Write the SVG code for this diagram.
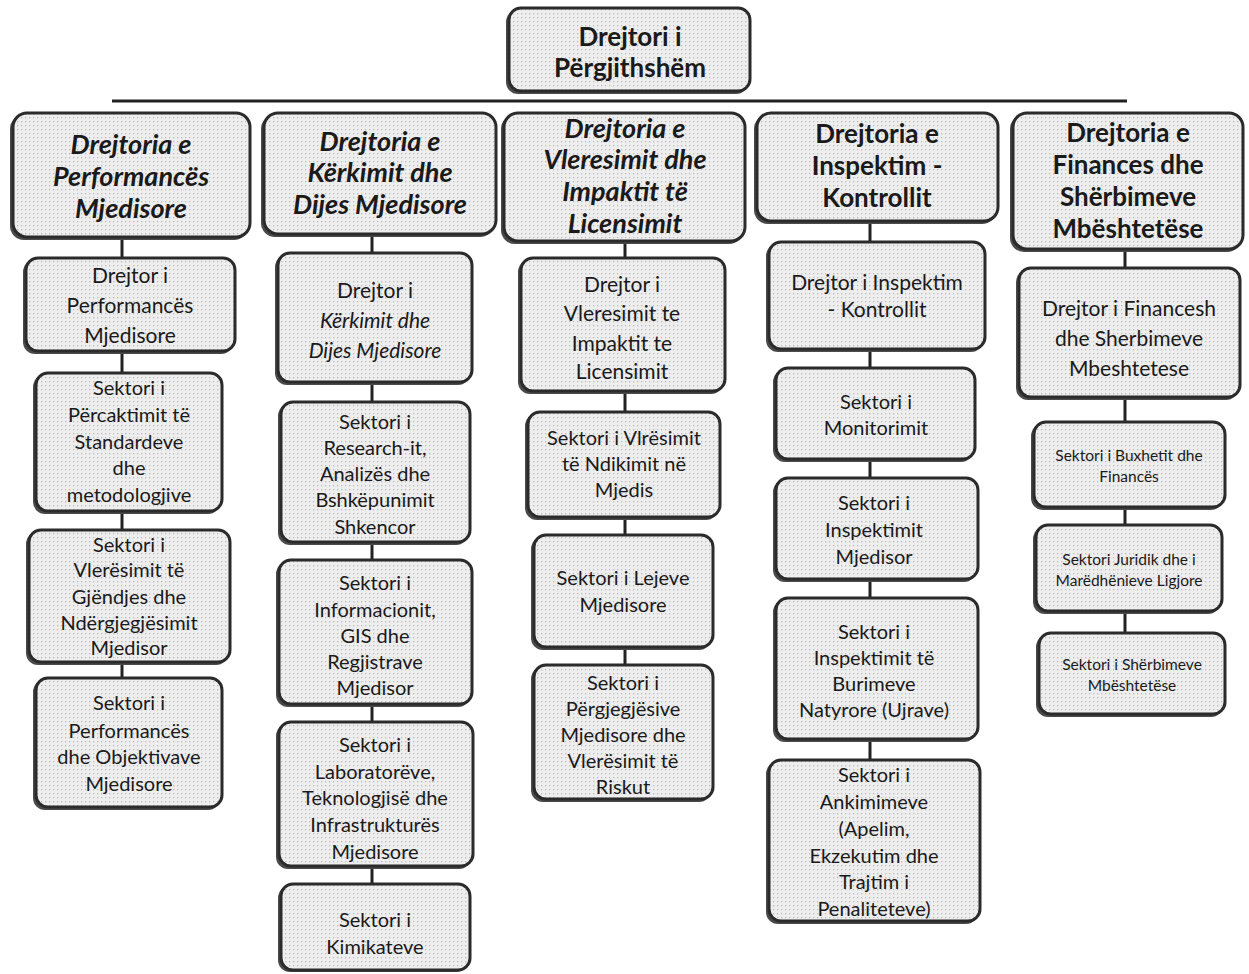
<svg xmlns="http://www.w3.org/2000/svg" width="1249" height="974" viewBox="0 0 1249 974">
<defs>
<pattern id="dots" width="4" height="4" patternUnits="userSpaceOnUse">
<rect width="4" height="4" fill="#eeeeee"/>
<rect x="1" y="1" width="1.3" height="1.3" fill="#bdbdbd"/>
</pattern>
<style>
.box{fill:url(#dots);stroke:#2b2b2b;stroke-width:3}
.sh{fill:#4a4a4a}
text{font-family:Lato,"Liberation Sans",sans-serif;fill:#1a1a1a;text-anchor:middle}
.t1{font-size:26px;font-weight:bold}
.t2{font-size:27px;font-weight:bold;font-style:italic}
.t2b{font-size:26px;font-weight:bold}
.t3{font-size:21px}
.t4{font-size:20px}
.t4s{font-size:21px}
.t5{font-size:15.5px}
.it{font-style:italic}
.con line{stroke:#222;stroke-width:3}
.bar{stroke:#1a1a1a;stroke-width:4}
</style>
</defs>
<rect width="1249" height="974" fill="#ffffff"/>

<g class="con" id="connectors">
<line class="bar" x1="112" y1="101" x2="1127" y2="101"/>
<line x1="122" y1="238" x2="122" y2="258"/>
<line x1="122" y1="352" x2="122" y2="373"/>
<line x1="122" y1="512" x2="122" y2="530"/>
<line x1="122" y1="663" x2="122" y2="678"/>
<line x1="372" y1="235" x2="372" y2="253"/>
<line x1="372" y1="383" x2="372" y2="402"/>
<line x1="372" y1="543" x2="372" y2="560"/>
<line x1="372" y1="705" x2="372" y2="722"/>
<line x1="372" y1="867" x2="372" y2="884"/>
<line x1="625" y1="242" x2="625" y2="258"/>
<line x1="625" y1="392" x2="625" y2="412"/>
<line x1="625" y1="518" x2="625" y2="535"/>
<line x1="625" y1="648" x2="625" y2="665"/>
<line x1="870" y1="222" x2="870" y2="242"/>
<line x1="870" y1="350" x2="870" y2="368"/>
<line x1="870" y1="460" x2="870" y2="478"/>
<line x1="870" y1="580" x2="870" y2="598"/>
<line x1="870" y1="740" x2="870" y2="760"/>
<line x1="1125" y1="250" x2="1125" y2="268"/>
<line x1="1125" y1="398" x2="1125" y2="422"/>
<line x1="1125" y1="508" x2="1125" y2="525"/>
<line x1="1125" y1="612" x2="1125" y2="633"/>
</g>

<g id="top">
<rect class="sh" x="506" y="10" width="242" height="84" rx="12"/>
<rect class="box" x="509" y="8" width="241" height="83" rx="12"/>
<text class="t1" x="630" y="46">Drejtori i</text>
<text class="t1" x="630" y="77">Përgjithshëm</text>
</g>

<!-- Column 1 -->
<g id="d1">
<rect class="sh" x="10" y="115" width="238" height="125" rx="14"/>
<rect class="box" x="13" y="113" width="237" height="124" rx="14"/>
<text class="t2" x="131" y="154">Drejtoria e</text>
<text class="t2" x="131" y="186">Performancës</text>
<text class="t2" x="131" y="218">Mjedisore</text>
</g>
<g id="c1n1">
<rect class="sh" x="23" y="260" width="210" height="94" rx="12"/>
<rect class="box" x="26" y="258" width="209" height="93" rx="12"/>
<text class="t3" x="130" y="283">Drejtor i</text>
<text class="t3" x="130" y="313">Performancës</text>
<text class="t3" x="130" y="343">Mjedisore</text>
</g>
<g id="c1n2">
<rect class="sh" x="33" y="375" width="187" height="139" rx="12"/>
<rect class="box" x="36" y="373" width="186" height="138" rx="12"/>
<text class="t4" x="129" y="395">Sektori i</text>
<text class="t4" x="129" y="422">Përcaktimit të</text>
<text class="t4" x="129" y="449">Standardeve</text>
<text class="t4" x="129" y="475">dhe</text>
<text class="t4" x="129" y="502">metodologjive</text>
</g>
<g id="c1n3">
<rect class="sh" x="26" y="532" width="202" height="133" rx="12"/>
<rect class="box" x="29" y="530" width="201" height="132" rx="12"/>
<text class="t4" x="129" y="552">Sektori i</text>
<text class="t4" x="129" y="577">Vlerësimit të</text>
<text class="t4" x="129" y="604">Gjëndjes dhe</text>
<text class="t4" x="129" y="630">Ndërgjegjësimit</text>
<text class="t4" x="129" y="655">Mjedisor</text>
</g>
<g id="c1n4">
<rect class="sh" x="33" y="680" width="187" height="130" rx="12"/>
<rect class="box" x="36" y="678" width="186" height="129" rx="12"/>
<text class="t4" x="129" y="710">Sektori i</text>
<text class="t4" x="129" y="738">Performancës</text>
<text class="t4" x="129" y="764">dhe Objektivave</text>
<text class="t4" x="129" y="791">Mjedisore</text>
</g>

<!-- Column 2 -->
<g id="d2">
<rect class="sh" x="261" y="115" width="233" height="122" rx="14"/>
<rect class="box" x="264" y="113" width="232" height="121" rx="14"/>
<text class="t2" x="380" y="151">Drejtoria e</text>
<text class="t2" x="380" y="182">Kërkimit dhe</text>
<text class="t2" x="380" y="214">Dijes Mjedisore</text>
</g>
<g id="c2n1">
<rect class="sh" x="275" y="255" width="195" height="130" rx="12"/>
<rect class="box" x="278" y="253" width="194" height="129" rx="12"/>
<text class="t3" x="375" y="298">Drejtor i</text>
<text class="t3 it" x="375" y="328">Kërkimit dhe</text>
<text class="t3 it" x="375" y="358">Dijes Mjedisore</text>
</g>
<g id="c2n2">
<rect class="sh" x="278" y="404" width="190" height="141" rx="12"/>
<rect class="box" x="281" y="402" width="189" height="140" rx="12"/>
<text class="t4" x="375" y="429">Sektori i</text>
<text class="t4" x="375" y="455">Research-it,</text>
<text class="t4" x="375" y="481">Analizës dhe</text>
<text class="t4" x="375" y="507">Bshkëpunimit</text>
<text class="t4" x="375" y="534">Shkencor</text>
</g>
<g id="c2n3">
<rect class="sh" x="276" y="562" width="194" height="145" rx="12"/>
<rect class="box" x="279" y="560" width="193" height="144" rx="12"/>
<text class="t4" x="375" y="590">Sektori i</text>
<text class="t4" x="375" y="617">Informacionit,</text>
<text class="t4" x="375" y="643">GIS dhe</text>
<text class="t4" x="375" y="669">Regjistrave</text>
<text class="t4" x="375" y="695">Mjedisor</text>
</g>
<g id="c2n4">
<rect class="sh" x="276" y="724" width="195" height="145" rx="12"/>
<rect class="box" x="279" y="722" width="194" height="144" rx="12"/>
<text class="t4" x="375" y="752">Sektori i</text>
<text class="t4" x="375" y="779">Laboratorëve,</text>
<text class="t4" x="375" y="805">Teknologjisë dhe</text>
<text class="t4" x="375" y="832">Infrastrukturës</text>
<text class="t4" x="375" y="859">Mjedisore</text>
</g>
<g id="c2n5">
<rect class="sh" x="278" y="886" width="190" height="86" rx="12"/>
<rect class="box" x="281" y="884" width="189" height="86" rx="12"/>
<text class="t4" x="375" y="927">Sektori i</text>
<text class="t4" x="375" y="954">Kimikateve</text>
</g>

<!-- Column 3 -->
<g id="d3">
<rect class="sh" x="501" y="115" width="242" height="129" rx="14"/>
<rect class="box" x="504" y="113" width="241" height="128" rx="14"/>
<text class="t2" x="625" y="138">Drejtoria e</text>
<text class="t2" x="625" y="169">Vleresimit dhe</text>
<text class="t2" x="625" y="201">Impaktit të</text>
<text class="t2" x="625" y="233">Licensimit</text>
</g>
<g id="c3n1">
<rect class="sh" x="518" y="260" width="205" height="134" rx="12"/>
<rect class="box" x="521" y="258" width="204" height="133" rx="12"/>
<text class="t3" x="622" y="292">Drejtor i</text>
<text class="t3" x="622" y="321">Vleresimit te</text>
<text class="t3" x="622" y="351">Impaktit te</text>
<text class="t3" x="622" y="379">Licensimit</text>
</g>
<g id="c3n2">
<rect class="sh" x="525" y="414" width="193" height="106" rx="12"/>
<rect class="box" x="528" y="412" width="192" height="105" rx="12"/>
<text class="t4" x="624" y="445">Sektori i Vlrësimit</text>
<text class="t4" x="624" y="471">të Ndikimit në</text>
<text class="t4" x="624" y="497">Mjedis</text>
</g>
<g id="c3n3">
<rect class="sh" x="531" y="537" width="180" height="113" rx="12"/>
<rect class="box" x="534" y="535" width="179" height="112" rx="12"/>
<text class="t4" x="623" y="585">Sektori i Lejeve</text>
<text class="t4" x="623" y="612">Mjedisore</text>
</g>
<g id="c3n4">
<rect class="sh" x="531" y="667" width="180" height="135" rx="12"/>
<rect class="box" x="534" y="665" width="179" height="134" rx="12"/>
<text class="t4" x="623" y="690">Sektori i</text>
<text class="t4" x="623" y="716">Përgjegjësive</text>
<text class="t4" x="623" y="742">Mjedisore dhe</text>
<text class="t4" x="623" y="768">Vlerësimit të</text>
<text class="t4" x="623" y="794">Riskut</text>
</g>

<!-- Column 4 -->
<g id="d4">
<rect class="sh" x="754" y="115" width="242" height="109" rx="14"/>
<rect class="box" x="757" y="113" width="241" height="108" rx="14"/>
<text class="t2b" x="877" y="143">Drejtoria e</text>
<text class="t2b" x="877" y="175">Inspektim -</text>
<text class="t2b" x="877" y="207">Kontrollit</text>
</g>
<g id="c4n1">
<rect class="sh" x="766" y="244" width="217" height="108" rx="12"/>
<rect class="box" x="769" y="242" width="216" height="107" rx="12"/>
<text class="t4s" x="877" y="290">Drejtor i Inspektim</text>
<text class="t4s" x="877" y="317">- Kontrollit</text>
</g>
<g id="c4n2">
<rect class="sh" x="773" y="370" width="200" height="92" rx="12"/>
<rect class="box" x="776" y="368" width="199" height="91" rx="12"/>
<text class="t4" x="876" y="409">Sektori i</text>
<text class="t4" x="876" y="435">Monitorimit</text>
</g>
<g id="c4n3">
<rect class="sh" x="773" y="480" width="203" height="102" rx="12"/>
<rect class="box" x="776" y="478" width="202" height="101" rx="12"/>
<text class="t4" x="874" y="510">Sektori i</text>
<text class="t4" x="874" y="537">Inspektimit</text>
<text class="t4" x="874" y="564">Mjedisor</text>
</g>
<g id="c4n4">
<rect class="sh" x="773" y="600" width="203" height="142" rx="12"/>
<rect class="box" x="776" y="598" width="202" height="141" rx="12"/>
<text class="t4" x="874" y="639">Sektori i</text>
<text class="t4" x="874" y="665">Inspektimit të</text>
<text class="t4" x="874" y="691">Burimeve</text>
<text class="t4" x="874" y="717">Natyrore (Ujrave)</text>
</g>
<g id="c4n5">
<rect class="sh" x="766" y="762" width="212" height="162" rx="12"/>
<rect class="box" x="769" y="760" width="211" height="161" rx="12"/>
<text class="t4" x="874" y="782">Sektori i</text>
<text class="t4" x="874" y="809">Ankimimeve</text>
<text class="t4" x="874" y="836">(Apelim,</text>
<text class="t4" x="874" y="863">Ekzekutim dhe</text>
<text class="t4" x="874" y="889">Trajtim i</text>
<text class="t4" x="874" y="916">Penaliteteve)</text>
</g>

<!-- Column 5 -->
<g id="d5">
<rect class="sh" x="1010" y="115" width="231" height="137" rx="14"/>
<rect class="box" x="1013" y="113" width="230" height="136" rx="14"/>
<text class="t2b" x="1128" y="142">Drejtoria e</text>
<text class="t2b" x="1128" y="174">Finances dhe</text>
<text class="t2b" x="1128" y="206">Shërbimeve</text>
<text class="t2b" x="1128" y="238">Mbështetëse</text>
</g>
<g id="c5n1">
<rect class="sh" x="1016" y="270" width="222" height="130" rx="12"/>
<rect class="box" x="1019" y="268" width="221" height="129" rx="12"/>
<text class="t3" x="1129" y="316">Drejtor i Financesh</text>
<text class="t3" x="1129" y="346">dhe Sherbimeve</text>
<text class="t3" x="1129" y="376">Mbeshtetese</text>
</g>
<g id="c5n2">
<rect class="sh" x="1031" y="424" width="192" height="86" rx="12"/>
<rect class="box" x="1034" y="422" width="191" height="85" rx="12"/>
<text class="t5" x="1129" y="461">Sektori i Buxhetit dhe</text>
<text class="t5" x="1129" y="482">Financës</text>
</g>
<g id="c5n3">
<rect class="sh" x="1033" y="527" width="187" height="87" rx="12"/>
<rect class="box" x="1036" y="525" width="186" height="86" rx="12"/>
<text class="t5" x="1129" y="565">Sektori Juridik dhe i</text>
<text class="t5" x="1129" y="586">Marëdhënieve Ligjore</text>
</g>
<g id="c5n4">
<rect class="sh" x="1036" y="635" width="187" height="82" rx="12"/>
<rect class="box" x="1039" y="633" width="186" height="81" rx="12"/>
<text class="t5" x="1132" y="670">Sektori i Shërbimeve</text>
<text class="t5" x="1132" y="691">Mbështetëse</text>
</g>
</svg>
